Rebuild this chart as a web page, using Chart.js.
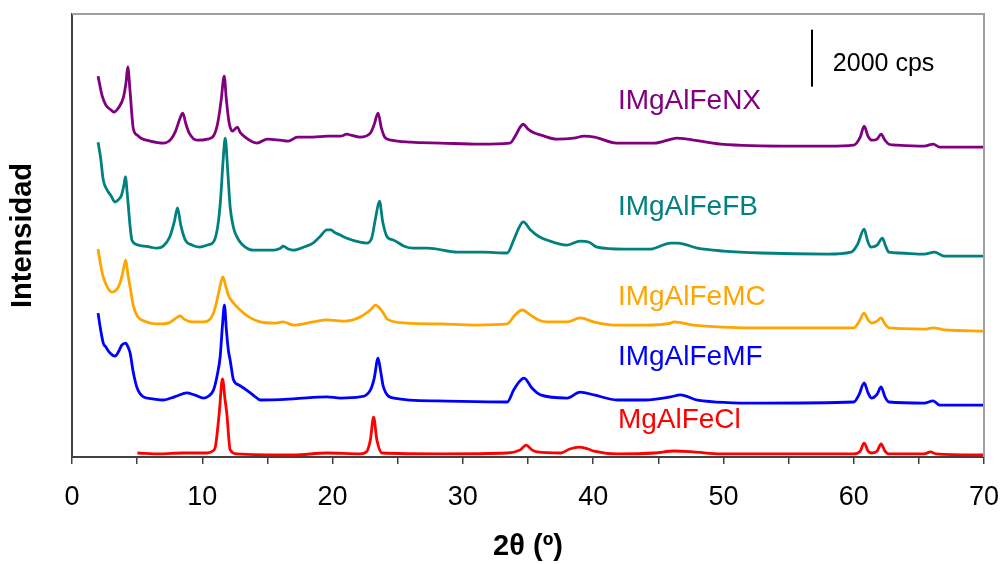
<!DOCTYPE html>
<html>
<head>
<meta charset="utf-8">
<script src="https://cdn.jsdelivr.net/npm/chart.js@4.4.1/dist/chart.umd.min.js"></script>
<style>
  html, body { margin: 0; padding: 0; background: #fff; }
  #wrap { width: 1001px; height: 564px; position: relative; }
</style>
</head>
<body>
<div id="wrap"><canvas id="xrd"></canvas></div>
<script>
// 2θ positions and counts (cps, stacked as plotted)
const nxTheta = [2.0, 2.3, 2.6, 3.0, 3.2, 3.6, 3.95, 4.15, 4.28, 4.45, 4.7, 5.0, 5.3, 6.0, 7.0, 7.6, 7.95, 8.3, 8.5, 8.75, 9.0, 9.6, 10.4, 10.9, 11.2, 11.45, 11.68, 11.85, 12.05, 12.3, 12.5, 12.7, 12.9, 13.2, 14.2, 15.0, 16.0, 16.6, 17.3, 18.5, 19.6, 20.6, 21.1, 21.4, 22.1, 22.9, 23.2, 23.49, 23.75, 24.0, 24.5, 26.0, 28.3, 31.3, 33.6, 34.1, 34.4, 34.63, 35.0, 35.5, 36.0, 37.2, 38.5, 39.3, 40.1, 41.8, 44.7, 46.0, 46.4, 47.2, 49.8, 55.4, 58.0, 60.0, 60.5, 60.8, 61.1, 61.4, 61.8, 62.1, 62.4, 62.7, 63.2, 65.4, 66.1, 66.6, 70.0];
const nxCounts = [13370, 12700, 12350, 12180, 12110, 12280, 12630, 13160, 13690, 12880, 11540, 11300, 11190, 11090, 11020, 11160, 11440, 11900, 12070, 11680, 11370, 11120, 11160, 11300, 11760, 12530, 13370, 12530, 11760, 11440, 11510, 11580, 11400, 11260, 11020, 11160, 11120, 11090, 11230, 11230, 11260, 11260, 11330, 11300, 11230, 11370, 11680, 12070, 11540, 11230, 11120, 11050, 11020, 10980, 11020, 11330, 11580, 11680, 11510, 11370, 11300, 11160, 11190, 11260, 11230, 11020, 11020, 11160, 11190, 11160, 10980, 10910, 10910, 10950, 11230, 11610, 11260, 11120, 11160, 11330, 11120, 10980, 10950, 10910, 10980, 10880, 10880];

const fbTheta = [2.0, 2.2, 2.4, 2.7, 3.0, 3.3, 3.6, 3.8, 4.0, 4.1, 4.25, 4.45, 4.6, 5.1, 6.0, 6.5, 7.0, 7.5, 7.85, 8.1, 8.35, 8.7, 9.2, 9.8, 10.4, 10.9, 11.2, 11.4, 11.6, 11.76, 11.95, 12.14, 12.4, 12.8, 13.3, 13.9, 15.5, 16.0, 16.2, 16.6, 17.0, 17.8, 18.5, 19.0, 19.57, 19.9, 20.1, 20.6, 21.1, 22.1, 22.6, 23.0, 23.3, 23.6, 23.85, 24.2, 24.7, 25.5, 26.2, 27.3, 29.6, 31.5, 33.4, 33.9, 34.3, 34.63, 35.2, 35.8, 36.5, 38.0, 39.0, 39.7, 40.3, 42.4, 44.4, 45.95, 46.5, 48.0, 50.0, 52.9, 58.0, 59.8, 60.3, 60.8, 61.05, 61.3, 61.8, 62.2, 62.45, 62.7, 63.5, 65.4, 66.2, 66.95, 70.0];
const fbCounts = [11050, 10490, 9720, 9370, 9160, 8950, 9050, 9190, 9580, 9830, 9190, 8140, 7610, 7440, 7370, 7330, 7400, 7720, 8250, 8740, 8140, 7610, 7440, 7370, 7440, 7580, 8140, 9020, 10420, 11190, 10070, 8770, 8040, 7610, 7370, 7260, 7260, 7330, 7400, 7300, 7260, 7370, 7510, 7720, 7970, 7970, 7900, 7790, 7680, 7540, 7510, 7680, 8390, 8980, 8250, 7720, 7610, 7400, 7330, 7330, 7190, 7190, 7160, 7610, 8040, 8250, 7970, 7750, 7610, 7440, 7580, 7540, 7370, 7300, 7300, 7510, 7510, 7330, 7230, 7160, 7120, 7190, 7470, 8000, 7610, 7370, 7440, 7680, 7400, 7190, 7160, 7120, 7190, 7050, 7050];

const mcTheta = [2.0, 2.2, 2.4, 2.7, 3.05, 3.3, 3.56, 3.8, 4.0, 4.12, 4.3, 4.46, 4.7, 4.97, 5.74, 6.76, 7.4, 7.78, 8.1, 8.3, 8.6, 9.2, 10.1, 10.6, 10.86, 11.1, 11.3, 11.58, 11.8, 12.0, 12.4, 12.9, 13.6, 14.45, 15.5, 16.2, 17.0, 18.5, 19.57, 21.0, 22.1, 22.9, 23.3, 23.6, 23.9, 24.2, 25.7, 28.3, 31.0, 33.4, 34.0, 34.55, 35.2, 35.8, 36.5, 38.0, 39.0, 40.06, 41.6, 44.0, 45.95, 46.2, 47.7, 50.0, 52.9, 57.0, 60.0, 60.4, 60.8, 61.1, 61.4, 61.8, 62.1, 62.4, 62.7, 65.4, 66.1, 67.0, 70.0];
const mcCounts = [7300, 6740, 6320, 5970, 5790, 5820, 5970, 6280, 6700, 6910, 6390, 5970, 5330, 4980, 4740, 4670, 4700, 4810, 4910, 4950, 4840, 4740, 4740, 4840, 5050, 5440, 5860, 6320, 6000, 5680, 5400, 5160, 4910, 4740, 4700, 4740, 4630, 4740, 4810, 4770, 4910, 5160, 5330, 5230, 5050, 4840, 4700, 4670, 4630, 4670, 4980, 5160, 4980, 4810, 4740, 4740, 4880, 4740, 4630, 4630, 4700, 4740, 4630, 4560, 4530, 4530, 4530, 4740, 5050, 4810, 4700, 4770, 4880, 4670, 4530, 4490, 4530, 4460, 4420];

const mfTheta = [2.0, 2.2, 2.4, 2.6, 2.92, 3.3, 3.6, 3.82, 4.12, 4.3, 4.46, 4.7, 4.97, 5.48, 6.2, 7.0, 7.6, 8.05, 8.8, 9.4, 10.1, 10.5, 10.86, 11.15, 11.37, 11.55, 11.7, 11.85, 12.0, 12.14, 12.4, 12.8, 13.4, 14.0, 14.45, 17.0, 19.57, 20.6, 22.1, 22.9, 23.2, 23.49, 23.7, 23.9, 24.7, 28.0, 33.4, 33.9, 34.3, 34.7, 35.3, 35.96, 38.0, 39.0, 40.06, 41.85, 44.0, 45.95, 46.7, 48.0, 52.9, 60.0, 60.4, 60.8, 61.1, 61.35, 61.8, 62.1, 62.4, 62.7, 65.4, 66.1, 66.6, 70.0];
const mfCounts = [5050, 4460, 4000, 3860, 3650, 3540, 3720, 3930, 4000, 3860, 3650, 2980, 2460, 2110, 2040, 2000, 2070, 2140, 2250, 2180, 2070, 2140, 2350, 2880, 3510, 4630, 5330, 4460, 3750, 3400, 2700, 2530, 2350, 2140, 2000, 2040, 2110, 2070, 2110, 2350, 2770, 3470, 2980, 2460, 2070, 1970, 1930, 2350, 2630, 2770, 2420, 2180, 2070, 2280, 2180, 2000, 2000, 2110, 2180, 2000, 1890, 1930, 2180, 2600, 2250, 2070, 2210, 2460, 2110, 1930, 1890, 1970, 1820, 1820];

const clTheta = [5.02, 6.76, 8.5, 10.35, 10.8, 11.0, 11.3, 11.55, 11.75, 11.88, 12.14, 12.65, 17.0, 19.57, 22.1, 22.6, 22.9, 23.15, 23.4, 23.8, 28.3, 33.4, 34.4, 34.86, 35.3, 35.7, 37.5, 38.2, 38.9, 39.6, 40.06, 41.85, 44.7, 46.2, 47.7, 49.8, 60.0, 60.5, 60.8, 61.1, 61.4, 61.8, 62.1, 62.4, 62.7, 65.4, 65.9, 66.3, 70.0];
const clCounts = [140, 110, 140, 140, 210, 350, 1540, 2740, 2000, 1540, 250, 110, 70, 140, 110, 180, 600, 1400, 600, 140, 110, 140, 250, 420, 250, 180, 140, 280, 350, 280, 210, 110, 140, 210, 180, 110, 110, 210, 490, 210, 140, 210, 460, 210, 110, 110, 180, 110, 70];

const seriesNames = ['IMgAlFeNX', 'IMgAlFeFB', 'IMgAlFeMC', 'IMgAlFeMF', 'MgAlFeCl'];
const seriesColors = ['#800080', '#008080', '#FFA500', '#0000FF', '#FF0000'];
const labelTheta = 41.9;
const labelCounts = [12490, 8770, 5620, 3510, 1290];

const xTicks = [0, 10, 20, 30, 40, 50, 60, 70];
const scaleBarTheta = 56.8;
const scaleBarCounts = [13000, 15000];
const scaleBarText = '2000 cps';

const FONT = '"Liberation Sans", Arial, Helvetica, sans-serif';

const toPoints = (xs, ys) => xs.map((v, i) => ({ x: v, y: ys[i] }));
const allTheta = [nxTheta, fbTheta, mcTheta, mfTheta, clTheta];
const allCounts = [nxCounts, fbCounts, mcCounts, mfCounts, clCounts];

const datasets = seriesNames.map((name, i) => ({
  label: name,
  data: toPoints(allTheta[i], allCounts[i]),
  borderColor: seriesColors[i],
  borderWidth: 2.8,
  pointRadius: 0,
  cubicInterpolationMode: 'monotone',
  borderJoinStyle: 'round'
}));
datasets.push({
  label: 'scale',
  data: scaleBarCounts.map(c => ({ x: scaleBarTheta, y: c })),
  borderColor: '#000',
  borderWidth: 2,
  pointRadius: 0
});

// series names, 2000 cps note and the grey top/right frame
const annotations = {
  id: 'annotations',
  afterDatasetsDraw(chart) {
    const { ctx, scales: { x, y } } = chart;
    const left = x.getPixelForValue(x.min);
    const right = x.getPixelForValue(x.max);
    const top = y.getPixelForValue(y.max);
    const bottom = y.getPixelForValue(y.min);
    ctx.save();
    ctx.strokeStyle = '#a0a0a0';
    ctx.lineWidth = 2;
    ctx.beginPath();
    ctx.moveTo(left, top);
    ctx.lineTo(right, top);
    ctx.lineTo(right, bottom);
    ctx.stroke();

    ctx.textBaseline = 'middle';
    ctx.textAlign = 'left';
    ctx.font = '28px ' + FONT;
    seriesNames.forEach((name, i) => {
      ctx.fillStyle = seriesColors[i];
      ctx.fillText(name, x.getPixelForValue(labelTheta), y.getPixelForValue(labelCounts[i]));
    });
    ctx.font = '25px ' + FONT;
    ctx.fillStyle = '#000';
    ctx.fillText(scaleBarText, x.getPixelForValue(58.4), y.getPixelForValue(13800));
    ctx.restore();
  }
};

new Chart(document.getElementById('xrd'), {
  type: 'line',
  data: { datasets },
  options: {
    responsive: true,
    maintainAspectRatio: false,
    animation: false,
    layout: { padding: { top: 14, right: 17, left: 0, bottom: 0 } },
    plugins: {
      legend: { display: false },
      tooltip: { enabled: false }
    },
    scales: {
      x: {
        type: 'linear',
        min: 0,
        max: 70,
        afterFit: s => { s.height = 107; s.paddingLeft = 0; s.paddingRight = 0; },
        border: { display: true, color: '#404040', width: 2 },
        grid: { display: true, drawOnChartArea: false, drawTicks: true, tickLength: 7, color: '#404040', lineWidth: 1.5 },
        ticks: {
          stepSize: 5,
          autoSkip: false,
          maxRotation: 0,
          padding: 17,
          color: '#000',
          font: { family: FONT, size: 27 },
          callback: v => (xTicks.includes(v) ? String(v) : '')
        },
        title: {
          display: true,
          text: '2θ (º)',
          color: '#000',
          padding: { top: 0, bottom: 0 },
          font: { family: FONT, size: 29, weight: 'bold' }
        }
      },
      y: {
        type: 'linear',
        min: 0,
        max: 15550,
        afterFit: s => { s.width = 72; },
        border: { display: true, color: '#404040', width: 2 },
        grid: { display: false },
        ticks: { display: false },
        title: {
          display: true,
          text: 'Intensidad',
          color: '#000',
          padding: { top: 6, bottom: 0 },
          font: { family: FONT, size: 29, weight: 'bold' }
        }
      }
    }
  },
  plugins: [annotations]
});
</script>
</body>
</html>
